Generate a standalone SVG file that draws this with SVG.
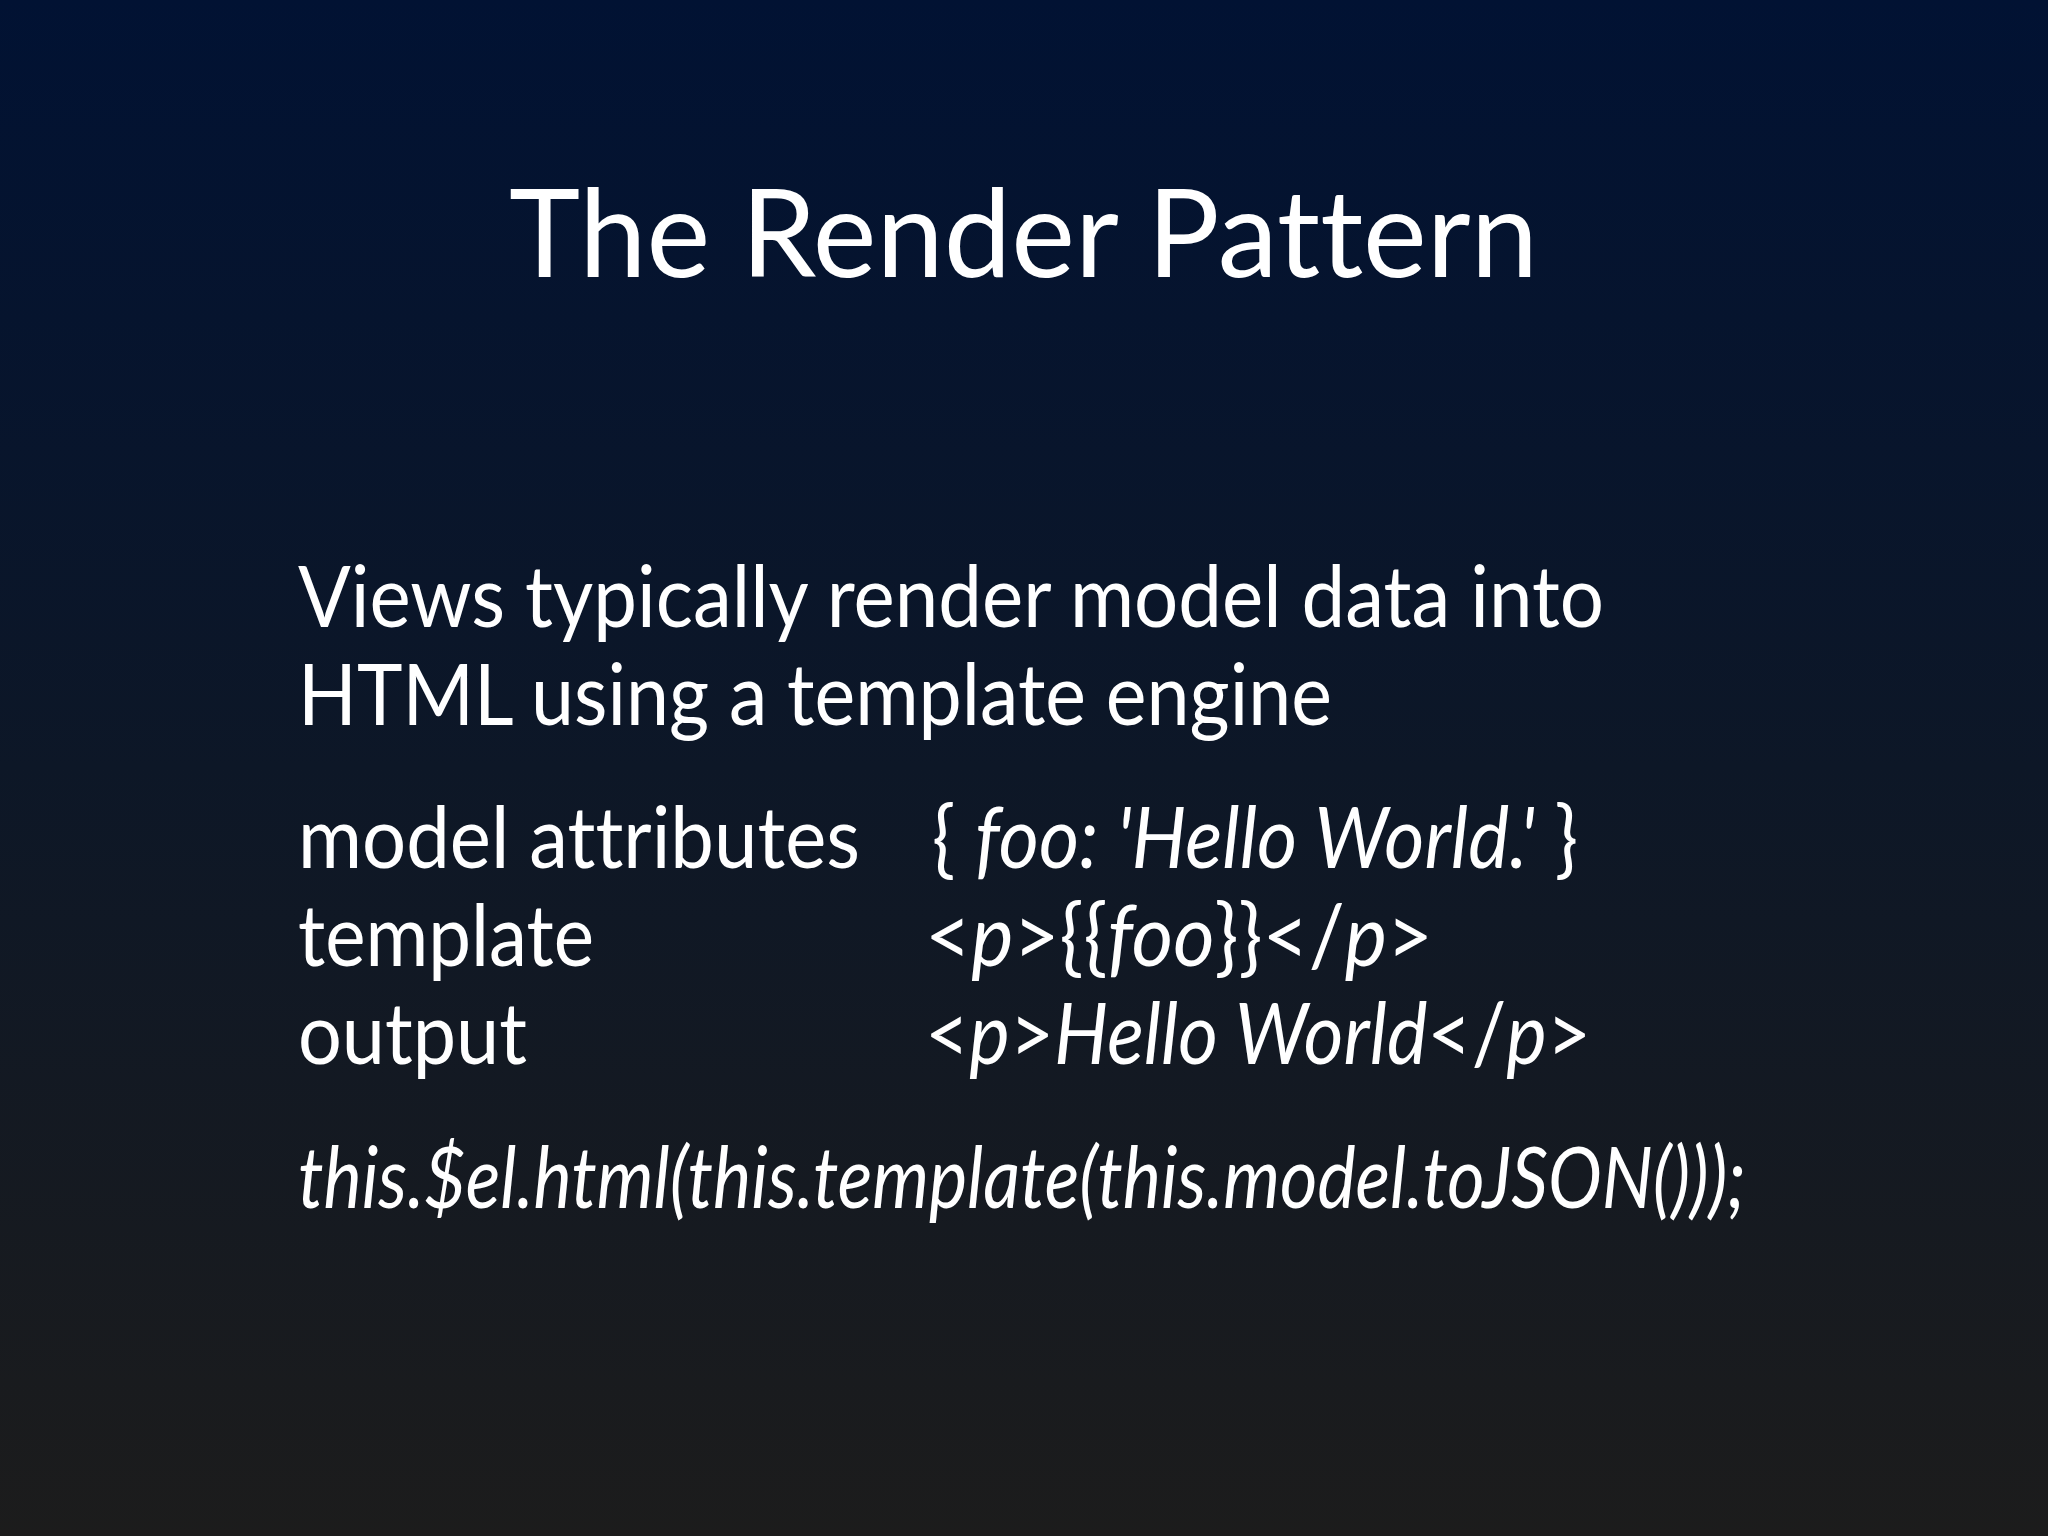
<svg xmlns="http://www.w3.org/2000/svg" width="2048" height="1536" viewBox="0 0 2048 1536">
<defs>
<linearGradient id="bg" x1="0" y1="0" x2="0" y2="1">
<stop offset="0" stop-color="#011233"/>
<stop offset="0.5" stop-color="#0d1727"/>
<stop offset="1" stop-color="#1c1c1c"/>
</linearGradient>
<style>
text{font-family:Lato,"Open Sans",sans-serif;fill:#ffffff;font-variant-ligatures:none}
.b{font-size:86px}
.i{font-style:italic}
</style>
</defs>
<rect width="2048" height="1536" fill="url(#bg)"/>
<g id="title"><text x="509" y="277" font-size="122" textLength="1029" lengthAdjust="spacingAndGlyphs">The Render Pattern</text></g>
<g id="intro">
<text class="b" x="298" y="627" textLength="1306" lengthAdjust="spacingAndGlyphs">Views typically render model data into</text>
<text class="b" x="298" y="725" textLength="1034" lengthAdjust="spacingAndGlyphs">HTML using a template engine</text>
</g>
<g id="table">
<text class="b" x="298" y="868" textLength="562" lengthAdjust="spacingAndGlyphs">model attributes</text>
<text class="b" x="298" y="966" textLength="296" lengthAdjust="spacingAndGlyphs">template</text>
<text class="b" x="298" y="1064" textLength="229" lengthAdjust="spacingAndGlyphs">output</text>
<text class="b" x="932" y="868" textLength="646" lengthAdjust="spacingAndGlyphs">{ <tspan class="i">foo: 'Hello World.'</tspan> }</text>
<text class="b" x="925" y="966" textLength="508" lengthAdjust="spacingAndGlyphs">&lt;<tspan class="i">p</tspan>&gt;{{<tspan class="i">foo</tspan>}}&lt;/<tspan class="i">p</tspan>&gt;</text>
<text class="b" x="925" y="1064" textLength="666" lengthAdjust="spacingAndGlyphs">&lt;<tspan class="i">p</tspan>&gt;<tspan class="i">Hello World</tspan>&lt;/<tspan class="i">p</tspan>&gt;</text>
</g>
<g id="code"><text class="b i" x="298" y="1208" textLength="1448" lengthAdjust="spacingAndGlyphs">this.$el.html(this.template(this.model.toJSON()));</text></g>
</svg>
